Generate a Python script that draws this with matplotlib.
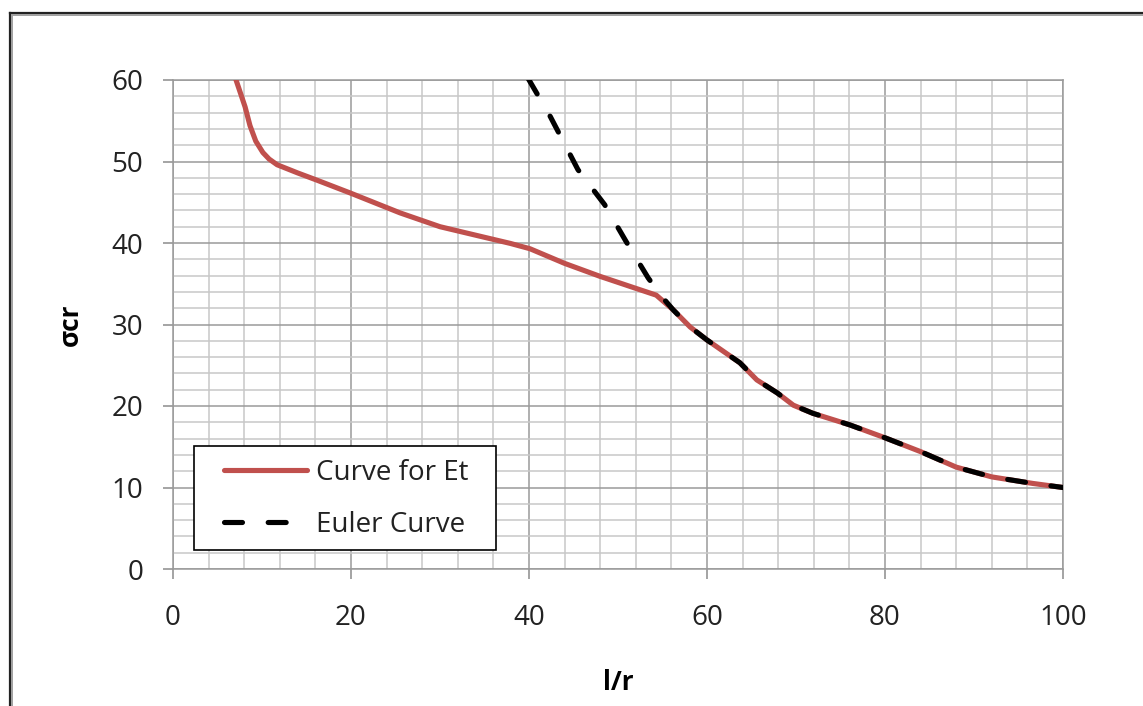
import matplotlib
matplotlib.use("Agg")
import matplotlib.pyplot as plt
from matplotlib.lines import Line2D
from matplotlib.patches import Rectangle
from matplotlib.ticker import MultipleLocator

# ---- data ----
et_x = [6.9, 8.1, 8.65, 9.3, 10.1, 10.8, 11.7, 14.0, 16.2, 20.0, 25.5, 30.0, 35.0, 37.9, 40.1,
        44.0, 48.0, 52.1, 54.3, 56.2, 58.1, 60.0, 63.7, 65.6, 67.9, 69.7, 71.9,
        76.0, 80.0, 84.0, 88.0, 90.0, 92.0, 96.6, 100.0]
et_y = [60.6, 56.7, 54.4, 52.5, 51.1, 50.3, 49.6, 48.6, 47.7, 46.1, 43.7, 42.0, 40.7, 39.95, 39.3,
        37.5, 35.9, 34.4, 33.6, 31.8, 29.7, 28.1, 25.3, 23.2, 21.6, 20.1, 19.1,
        17.7, 16.1, 14.4, 12.5, 11.9, 11.3, 10.5, 10.0]

euler_x = [39.9, 42.4, 45.5, 48.5, 50.9, 53.4, 55.1, 56.2, 58.1, 60.0, 63.7, 65.6,
           67.9, 69.7, 71.9, 76.0, 80.0, 84.0, 88.0, 90.0, 92.0, 96.6, 100.0]
euler_y = [60.2, 55.5, 49.0, 44.7, 40.2, 35.7, 33.2, 31.8, 29.7, 28.1, 25.3, 23.2,
           21.6, 20.1, 19.1, 17.7, 16.1, 14.4, 12.5, 11.9, 11.3, 10.5, 10.0]

x_ticks = [0, 20, 40, 60, 80, 100]
y_ticks = [0, 10, 20, 30, 40, 50, 60]
series_labels = ["Curve for Et", "Euler Curve"]
x_label = "l/r"
y_label = "σcr"

plt.rcParams['font.family'] = ['Open Sans', 'DejaVu Sans']

W, H = 1143, 706
fig = plt.figure(figsize=(W / 100, H / 100), dpi=100)
fig.patch.set_facecolor('white')

ax = fig.add_axes([173 / W, 1 - 569 / H, 890 / W, 489 / H])
ax.set_xlim(0, 100)
ax.set_ylim(0, 60)

# grid
ax.xaxis.set_major_locator(MultipleLocator(20))
ax.xaxis.set_minor_locator(MultipleLocator(4))
ax.yaxis.set_major_locator(MultipleLocator(10))
ax.yaxis.set_minor_locator(MultipleLocator(2))
ax.grid(which='minor', color='#c8c8c8', lw=1.1, zorder=0)
ax.grid(which='major', color='#9a9a9a', lw=1.1, zorder=0)
ax.set_axisbelow(True)
ax.tick_params(which='minor', length=0)
ax.tick_params(which='major', direction='out', length=7.5, width=1.1, color='#8c8c8c',
               labelsize=20, labelcolor='#222222')
ax.tick_params(axis='y', pad=14)
ax.tick_params(axis='x', pad=18)
ax.set_xticks(x_ticks)
ax.set_yticks(y_ticks)
for s in ax.spines.values():
    s.set_color('#9a9a9a')
    s.set_linewidth(1.1)

red = '#C0504D'
l1, = ax.plot(et_x, et_y, color=red, lw=3.7, solid_capstyle='round',
              solid_joinstyle='round', zorder=3, label=series_labels[0])
l2, = ax.plot(euler_x, euler_y, color='black', lw=3.7, linestyle=(0, (3.5, 5.0)),
              dash_capstyle='round', zorder=4, label=series_labels[1])

ax.set_xlabel(x_label, fontsize=19, fontweight='bold', labelpad=26)
ax.set_ylabel(y_label, fontsize=19, fontweight='bold', labelpad=20)

# legend box
x0 = (194 - 173) / 890
y0 = (569 - 550) / 489
ax.add_patch(Rectangle((x0, y0), 302 / 890, 104 / 489, transform=ax.transAxes,
                       facecolor='white', edgecolor='black', lw=1.2, zorder=5,
                       clip_on=False))
leg = ax.legend(handles=[l1, l2], loc='center left',
                bbox_to_anchor=((224 - 173) / 890, (569 - 499) / 489),
                frameon=False, fontsize=20, borderpad=0, borderaxespad=0,
                handlelength=3.0, handletextpad=0.32, labelspacing=0.85)
leg.set_zorder(6)
for t in leg.get_texts():
    t.set_color('#222222')

# outer frame (partially visible)
fig.add_artist(Line2D([10 / W, 10 / W], [0, 1 - 13 / H], color='#222222', lw=1.6))
fig.add_artist(Line2D([12 / W, 12 / W], [0, 1 - 15 / H], color='#a0a0a0', lw=1.4))
fig.add_artist(Line2D([10 / W, 1], [1 - 13 / H, 1 - 13 / H], color='#222222', lw=1.6))
fig.add_artist(Line2D([12 / W, 1], [1 - 15 / H, 1 - 15 / H], color='#a0a0a0', lw=1.4))

fig.savefig('out.png', dpi=100)
